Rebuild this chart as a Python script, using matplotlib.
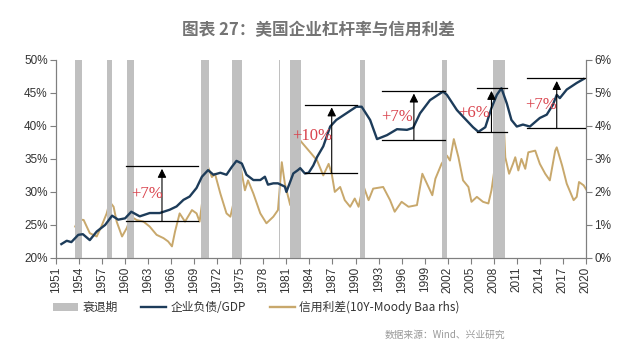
import matplotlib
matplotlib.use("Agg")
import matplotlib.pyplot as plt
from matplotlib.patches import Patch
from matplotlib.lines import Line2D

# ---------------- data ----------------
debt_years = [1951.7, 1952.4, 1953.0, 1953.9, 1954.5, 1955.4, 1956.3, 1957.4, 1958.3, 1959.1,
              1960.0, 1960.8, 1961.9, 1963.2, 1964.5, 1965.8, 1966.7, 1967.6, 1968.4, 1969.3,
              1970.0, 1970.8, 1971.5, 1972.4, 1973.2, 1973.9, 1974.5, 1975.2, 1975.8, 1976.7,
              1977.6, 1978.2, 1978.6, 1979.3, 1979.9, 1980.8, 1981.0, 1981.9, 1982.5, 1982.8,
              1983.4, 1983.9, 1984.5, 1985.0, 1985.8, 1986.7, 1987.5, 1988.8, 1990.1, 1990.8,
              1991.9, 1992.8, 1994.1, 1995.4, 1996.7, 1997.5, 1998.4, 1999.7, 2001.4, 2001.9,
              2003.2, 2004.0, 2005.3, 2006.0, 2006.9, 2007.7, 2008.4, 2009.0, 2009.7, 2010.3,
              2011.0, 2011.8, 2012.7, 2014.0, 2014.9, 2015.7, 2016.2, 2016.6, 2017.5, 2018.8,
              2019.7]
debt_gdp = [22.1, 22.6, 22.4, 23.5, 23.6, 22.7, 24.0, 25.0, 26.4, 25.8,
            26.0, 27.0, 26.3, 26.8, 26.8, 27.3, 27.8, 28.8, 29.3, 30.6,
            32.3, 33.3, 32.6, 32.9, 32.6, 33.8, 34.7, 34.3, 32.6, 31.8,
            31.8, 32.3, 31.1, 31.3, 31.3, 30.8, 30.0, 32.8, 33.3, 33.6,
            32.8, 32.9, 34.0, 35.3, 36.9, 39.9, 40.9, 41.9, 42.9, 42.9,
            40.9, 38.0, 38.6, 39.5, 39.4, 39.7, 41.9, 43.9, 45.2, 44.7,
            42.4, 41.4, 39.8, 39.1, 39.8, 42.7, 44.7, 45.7, 43.4, 40.9,
            39.9, 40.2, 39.9, 41.2, 41.7, 43.2, 44.7, 44.2, 45.5, 46.5,
            47.1]

spread_years = [1953.5, 1953.9, 1954.6, 1955.4, 1956.3, 1956.9, 1957.6, 1958.0, 1958.5, 1958.9,
                1959.6, 1960.2, 1960.8, 1961.5, 1962.4, 1963.2, 1964.1, 1965.0, 1965.6, 1966.1,
                1966.5, 1967.1, 1967.8, 1968.7, 1969.3, 1969.7, 1970.4, 1970.8, 1971.3, 1971.7,
                1972.4, 1973.2, 1973.7, 1974.1, 1974.6, 1975.0, 1975.6, 1976.0, 1976.7, 1977.6,
                1978.4, 1979.3, 1979.9, 1980.4, 1980.8, 1981.5, 1981.9, 1982.5, 1983.0, 1984.1,
                1985.0, 1985.8, 1986.5, 1986.9, 1987.3, 1988.0, 1988.6, 1989.3, 1989.9, 1990.4,
                1991.0, 1991.7, 1992.3, 1993.6, 1994.5, 1995.1, 1996.0, 1996.9, 1998.0, 1998.7,
                1999.3, 2000.0, 2000.4, 2001.2, 2001.9, 2002.3, 2002.8, 2003.4, 2004.0, 2004.7,
                2005.1, 2005.8, 2006.6, 2007.3, 2007.7, 2008.2, 2008.6, 2008.8, 2009.1, 2009.5,
                2010.0, 2010.5, 2010.8, 2011.2, 2011.6, 2012.1, 2012.5, 2013.4, 2014.0, 2014.7,
                2015.3, 2016.0, 2016.2, 2016.9, 2017.5, 2018.4, 2018.8, 2019.1, 2019.7, 2020.1]
credit_spread = [0.95, 1.17, 1.15, 0.75, 0.65, 0.95, 1.35, 1.70, 1.55, 1.10,
                 0.65, 0.90, 1.25, 1.15, 1.10, 0.95, 0.70, 0.60, 0.50, 0.35,
                 0.80, 1.35, 1.10, 1.45, 1.35, 1.10, 2.35, 2.75, 2.45, 2.55,
                 1.95, 1.35, 1.25, 1.65, 2.75, 2.80, 2.05, 2.35, 1.95, 1.35,
                 1.05, 1.25, 1.45, 2.90, 2.25, 1.60, 2.80, 3.65, 3.50, 3.20,
                 2.95, 2.50, 2.85, 2.55, 2.00, 2.15, 1.75, 1.55, 1.80, 1.55,
                 2.20, 1.75, 2.10, 2.15, 1.75, 1.40, 1.70, 1.55, 1.60, 2.55,
                 2.25, 1.90, 2.40, 2.85, 3.10, 2.95, 3.60, 3.05, 2.35, 2.15,
                 1.70, 1.85, 1.70, 1.65, 2.05, 2.85, 3.55, 5.60, 5.10, 3.05,
                 2.55, 2.85, 3.05, 2.65, 3.00, 2.70, 3.20, 3.25, 2.85, 2.55,
                 2.35, 3.25, 3.35, 2.80, 2.25, 1.75, 1.85, 2.30, 2.20, 2.05]

recession_start = [1953.5, 1957.7, 1960.3, 1969.9, 1973.9, 1980.0, 1981.5, 1990.6, 2001.2, 2007.9]
recession_end   = [1954.4, 1958.3, 1961.1, 1970.9, 1975.2, 1980.2, 1982.9, 1991.2, 2001.9, 2009.5]

# leverage-increase brackets (left-axis units)
bracket_start = [1960.1, 1983.4, 1993.5, 2005.8, 2012.3]
bracket_end   = [1969.5, 1990.2, 2001.7, 2009.7, 2020.0]
bracket_low   = [25.6, 32.8, 37.8, 39.0, 39.7]
bracket_high  = [33.9, 43.2, 45.3, 45.7, 47.2]
arrow_year    = [1964.8, 1986.9, 1997.6, 2007.7, 2016.2]
bracket_label = ["+7%", "+10%", "+7%", "+6%", "+7%"]
label_year    = [1962.8, 1984.3, 1995.4, 2005.5, 2014.2]
label_value   = [29.7, 38.4, 41.3, 42.0, 43.2]

year_ticks = list(range(1951, 2021, 3))
left_ticks = [20, 25, 30, 35, 40, 45, 50]
right_ticks = [0, 1, 2, 3, 4, 5, 6]

title = "图表 27：美国企业杠杆率与信用利差"
legend_labels = ["衰退期", "企业负债/GDP", "信用利差(10Y-Moody Baa rhs)"]
source = "数据来源：Wind、兴业研究"

# ---------------- style ----------------
plt.rcParams['font.family'] = ['Liberation Sans', 'Noto Sans CJK SC', 'DejaVu Sans']
cjk = ['Noto Sans CJK SC', 'DejaVu Sans']
navy = '#1d3c5a'
tan = '#c8a86c'
bar_grey = '#c0c0c0'
spine_grey = '#7f7f7f'
red = '#d9434d'

fig = plt.figure(figsize=(6.4, 3.5), dpi=100)
ax = fig.add_axes([0.0875, 0.263, 0.828, 0.566])
ax2 = ax.twinx()

for s, e in zip(recession_start, recession_end):
    ax.axvspan(s, e, color=bar_grey, lw=0, zorder=0)

ax2.plot(spread_years, credit_spread, color=tan, lw=1.4, zorder=2)
ax.plot(debt_years, debt_gdp, color=navy, lw=1.7, zorder=3)
ax.set_zorder(ax2.get_zorder() + 1)
ax.patch.set_visible(False)

for xs, xe, lo, hi, xa, lab, lx, ly in zip(bracket_start, bracket_end, bracket_low, bracket_high,
                                           arrow_year, bracket_label, label_year, label_value):
    ax.plot([xs, xe], [hi, hi], color='black', lw=0.9, zorder=4)
    ax.plot([xs, xe], [lo, lo], color='black', lw=0.9, zorder=4)
    ax.annotate('', xy=(xa, hi - 0.4), xytext=(xa, lo),
                arrowprops=dict(arrowstyle='-|>', color='black', lw=0.8,
                                mutation_scale=13, shrinkA=0, shrinkB=0), zorder=5)
    ax.text(lx, ly, lab, color=red, fontsize=12, family='Liberation Serif',
            ha='center', va='center', zorder=6)

ax.set_xlim(1951, 2020)
ax.set_ylim(20, 50)
ax2.set_ylim(0, 6)
ax.set_xticks(year_ticks)
ax.set_xticklabels([str(y) for y in year_ticks], rotation=90, fontsize=8.5, color='#333333')
ax.set_yticks(left_ticks)
ax.set_yticklabels([f"{v}%" for v in left_ticks], fontsize=8.5, color='#333333')
ax2.set_yticks(right_ticks)
ax2.set_yticklabels([f"{v}%" for v in right_ticks], fontsize=8.5, color='#333333')

for a in (ax, ax2):
    a.spines['top'].set_visible(False)
    for sp in ('left', 'right', 'bottom'):
        a.spines[sp].set_color(spine_grey)
        a.spines[sp].set_linewidth(0.8)
    a.tick_params(direction='out', length=4, width=0.8, color=spine_grey, pad=2)

fig.text(0.497, 0.913, title, fontsize=12, color='#747474', family=cjk,
         ha='center', va='center', weight='bold')

handles = [Patch(facecolor=bar_grey, edgecolor='none'),
           Line2D([], [], color=navy, lw=1.7),
           Line2D([], [], color=tan, lw=1.7)]
leg = fig.legend(handles, legend_labels, loc='center left', bbox_to_anchor=(0.066, 0.122),
                 ncol=3, frameon=False, prop={'family': cjk, 'size': 8.5},
                 handlelength=2.1, handleheight=0.6, handletextpad=0.4, columnspacing=2.0)
for t in leg.get_texts():
    t.set_color('#333333')

fig.text(0.79, 0.043, source, fontsize=7, color='#999999', family=cjk,
         ha='right', va='center')

fig.savefig('out.png', dpi=100)
